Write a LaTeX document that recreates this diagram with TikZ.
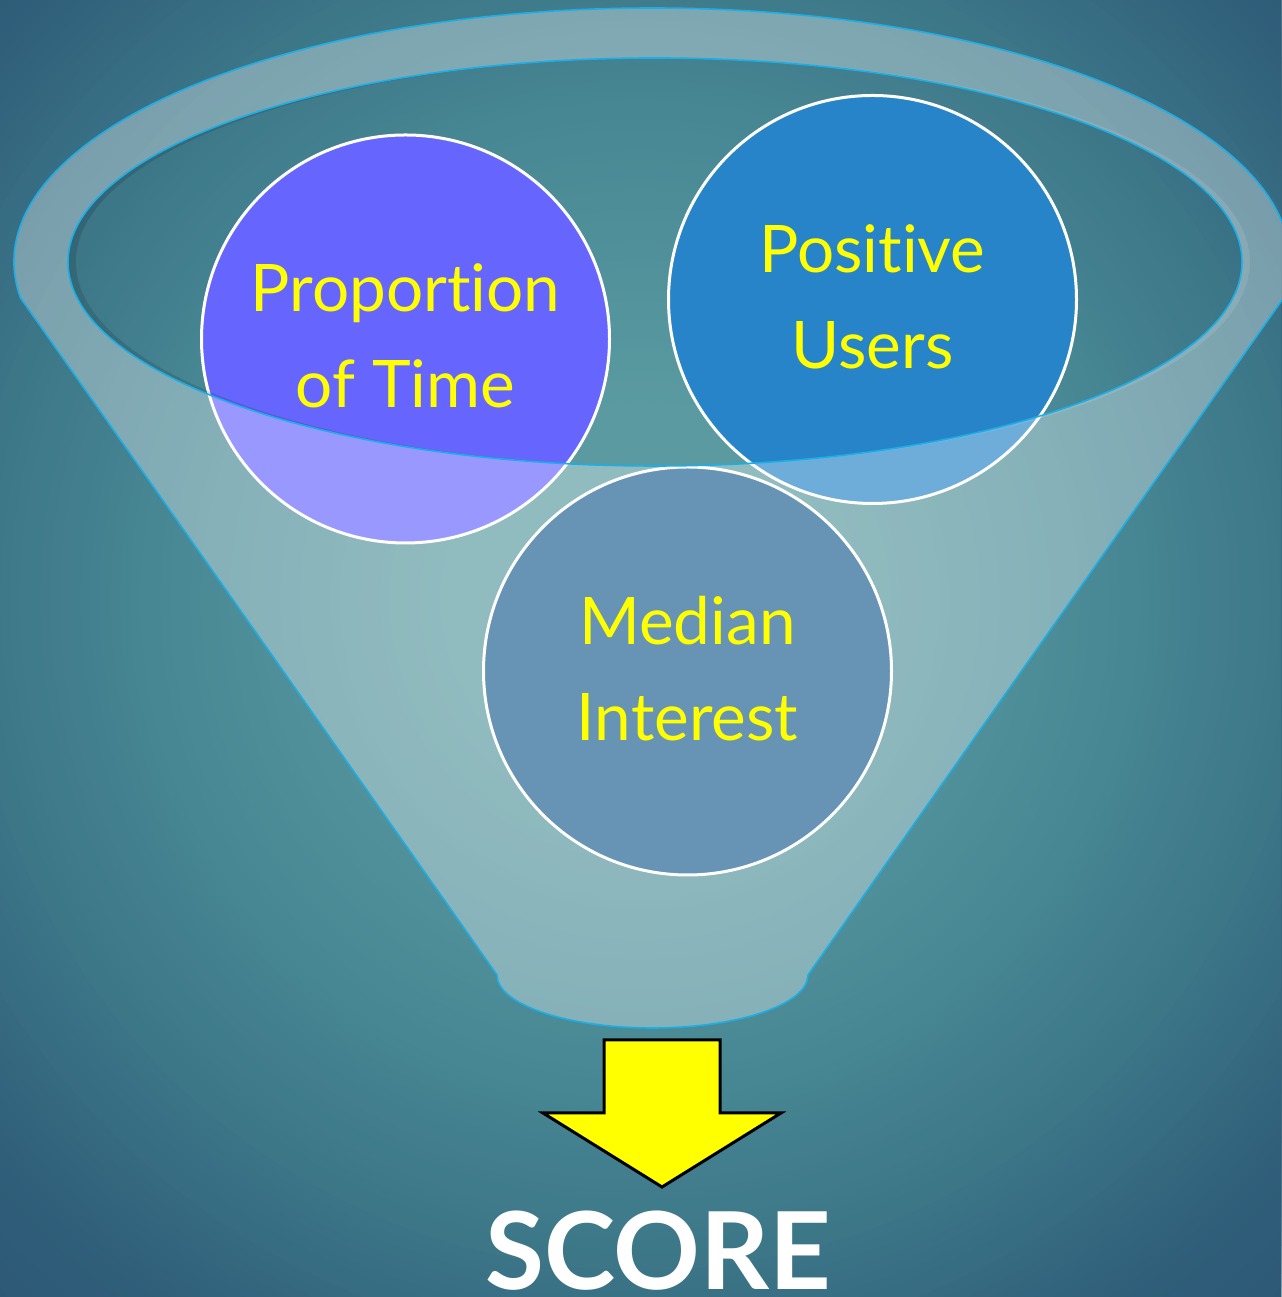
\documentclass[tikz,border=0pt]{standalone}
\usepackage{fontspec}
\setmainfont{Lato}[Ligatures={NoCommon,NoRare,NoContextual}]
\definecolor{bgA}{HTML}{5A9AA0}
\definecolor{bgB}{HTML}{4A8A96}
\definecolor{bgC}{HTML}{3D7889}
\definecolor{bgD}{HTML}{305F7A}
\definecolor{bgE}{HTML}{2C5676}
\definecolor{propc}{HTML}{6666FF}
\definecolor{posc}{HTML}{2884C8}
\definecolor{medc}{HTML}{6794B5}
\definecolor{rimc}{HTML}{1CAEE6}
\definecolor{txtyellow}{HTML}{FFFF00}
\tikzset{
  bubble/.style={circle, draw=white, line width=3pt, minimum size=408pt, inner sep=0pt},
  lbl/.style={text=txtyellow, font=\fontsize{65.6}{96}\selectfont, align=center, inner sep=0pt},
  funnelfill/.style={fill=white, fill opacity=0.33},
  rim/.style={draw=rimc, line width=1.6pt},
  blockarrow/.style={fill=txtyellow, draw=black, line width=3pt, line join=miter},
  scoretext/.style={text=white, font=\fontsize{107.5}{110}\selectfont\bfseries, inner sep=0pt}
}
\begin{document}
\begin{tikzpicture}[x=1pt,y=1pt]
\useasboundingbox (0,0) rectangle (1281,1297);
% background: radial gradient built from concentric discs
\begin{scope}
\clip (0,0) rectangle (1281,1297);
\fill[bgE] (0,0) rectangle (1281,1297);
\foreach \r in {1000,990,...,860}{\pgfmathsetmacro\p{(1000-\r)/150*100}\fill[bgD!\p!bgE] (640,697) circle[radius=\r pt];}
\foreach \r in {850,840,...,660}{\pgfmathsetmacro\p{(850-\r)/200*100}\fill[bgC!\p!bgD] (640,697) circle[radius=\r pt];}
\foreach \r in {650,640,...,460}{\pgfmathsetmacro\p{(650-\r)/200*100}\fill[bgB!\p!bgC] (640,697) circle[radius=\r pt];}
\foreach \r in {450,440,...,210}{\pgfmathsetmacro\p{(450-\r)/250*100}\fill[bgA!\p!bgB] (640,697) circle[radius=\r pt];}
\fill[bgA] (640,697) circle[radius=200pt];
\end{scope}
% upper circles
\node[bubble, fill=propc] (prop) at (405.5,958) {};
\node[bubble, fill=posc] (pos) at (872.5,997.5) {};
% funnel translucent body with opening
\path[funnelfill, even odd rule]
  (20.4,999.2) arc[start angle=188.1, end angle=-8.1, x radius=638pt, y radius=254pt]
  -- (808,322) arc[start angle=0, end angle=-180, x radius=155.5pt, y radius=53pt] -- cycle
  (655,1035) ellipse[x radius=587pt, y radius=204pt];
% inner shading of the opening
\begin{scope}
\clip (655,1035) ellipse[x radius=587pt, y radius=204pt];
\fill[black, fill opacity=0.12, even odd rule] (655,1035) ellipse[x radius=587pt, y radius=204pt] (663,1035) ellipse[x radius=587pt, y radius=204pt];
\end{scope}
\begin{scope}
\clip (663,1035) ellipse[x radius=587pt, y radius=204pt];
\fill[white, fill opacity=0.10, even odd rule] (655,1035) ellipse[x radius=587pt, y radius=204pt] (663,1035) ellipse[x radius=587pt, y radius=204pt];
\end{scope}
% lower circle
\node[bubble, fill=medc] (med) at (687.5,626) {};
% funnel outlines
\draw[rim, line join=round]
  (20.4,999.2) arc[start angle=188.1, end angle=-8.1, x radius=638pt, y radius=254pt]
  -- (808,322) arc[start angle=0, end angle=-180, x radius=155.5pt, y radius=53pt] -- cycle;
\draw[rim] (655,1035) ellipse[x radius=587pt, y radius=204pt];
% labels
\node[lbl] (proptxt) at ([yshift=3.5pt]prop.center) {Proportion\\of Time};
\node[lbl] (postxt) at ([yshift=3pt]pos.center) {Positive\\Users};
\node[lbl] (medtxt) at ([yshift=2.5pt]med.center) {Median\\Interest};
% arrow
\draw[blockarrow] (604,257) -- (720,257) -- (720,184) -- (781,184) -- (662,110) -- (543,184) -- (604,184) -- cycle;
% result
\node[scoretext, anchor=base] (score) at (658.5,8) {SCORE};
\end{tikzpicture}
\end{document}
